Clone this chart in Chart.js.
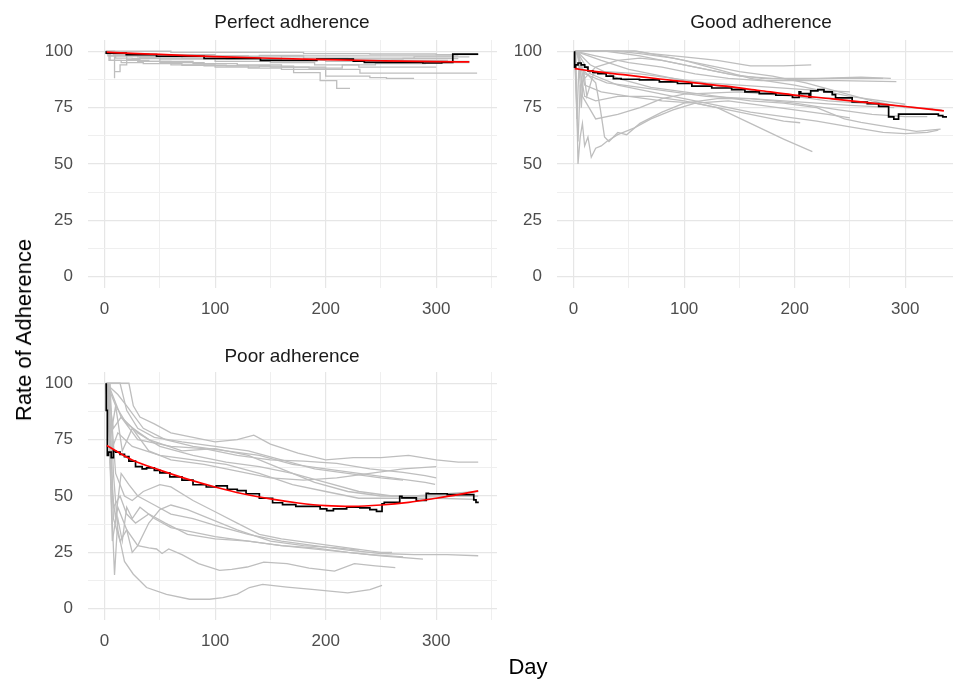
<!DOCTYPE html>
<html lang="en">
<head>
<meta charset="UTF-8">
<title>Rate of Adherence by Day</title>
<script src="https://cdn.jsdelivr.net/npm/chart.js@4.4.1/dist/chart.umd.min.js"></script>
<style>
  html, body { margin: 0; padding: 0; background: #fff; overflow: hidden; }
  #page {
    position: relative; width: 953px; height: 683px; overflow: hidden;
    font-family: 'Liberation Sans', Arial, sans-serif;
  }
  #page canvas { position: absolute; }
  .strip {
    position: absolute; font-size: 19px; line-height: 1; color: #1a1a1a;
    transform: translateX(-50%); white-space: nowrap;
  }
  .axis-title { position: absolute; font-size: 22px; line-height: 1; color: #000; white-space: nowrap; }
</style>
</head>
<body>
<div id="page">
  <canvas id="perfect" width="510" height="330" style="left:0;top:0"></canvas>
  <canvas id="good" width="510" height="330" style="left:469px;top:0"></canvas>
  <canvas id="poor" width="510" height="330" style="left:0;top:332px"></canvas>

  <div class="strip" style="left:292px;top:12px">Perfect adherence</div>
  <div class="strip" style="left:761px;top:12px">Good adherence</div>
  <div class="strip" style="left:292px;top:346px">Poor adherence</div>

  <div class="axis-title" style="left:528px;top:656px;transform:translateX(-50%)">Day</div>
  <div class="axis-title" style="left:24px;top:330px;transform:translate(-50%,-50%) rotate(-90deg)">Rate of Adherence</div>
</div>

<script>
// tick labels shown on the axes
const dayTicks = [0, 100, 200, 300];
const rateTicks = [0, 25, 50, 75, 100];

// ---- Perfect adherence: [day, rate] ----
const perfectMean = [[1.5,100],[19.6,99.2],[47,98.5],[90,97.8],[141,96.8],[192,96],[225,96.5],[235,95.6],[288,95.1],[305,94.8],[315,95.1],[338,98.7]];
const perfectTrend = [[2,99.6],[25,99.1],[50,98.6],[75,98.1],[100,97.6],[150,96.9],[200,96.3],[250,95.8],[300,95.4],[330,95.3]];
const perfectPatients = [
  [[1,100],[60,100],[120,99.5],[180,99.5],[240,99],[300,98.8],[338,98.5]],
  [[1,100],[9,100],[9,88],[14,91],[20,94],[32,96.3],[47,97.4],[100,97],[150,96.5],[200,96],[260,95.5],[310,96],[330,95.5]],
  [[3,100],[20,98],[40,96],[80,95.5],[120,94.5],[160,94],[200,93],[231,92],[249,90.3],[300,90.3],[337,90.3]],
  [[5,100],[30,96],[60,95.5],[100,94],[140,93],[171,93.4],[195,90.5],[210,87],[222,83.5]],
  [[10,100],[25,97],[50,96.8],[90,95],[130,93.5],[160,92.5],[200,92],[240,89],[255,88.3],[280,88]],
  [[2,100],[40,99],[80,98.5],[130,98],[180,97.5],[230,97],[280,97],[330,97.5]],
  [[5,100],[50,98],[100,96.5],[150,95.5],[190,95],[230,94],[260,93],[300,93]],
  [[8,100],[30,98.5],[70,97.5],[110,97],[160,96.5],[210,98],[260,98],[320,98]],
  [[4,100],[15,96],[35,95],[70,94.5],[110,93.8],[150,93.5],[185,93],[215,92.5],[245,94],[290,94.5],[330,95]],
  [[6,100],[20,99],[60,98],[100,98.5],[140,97.8],[180,98.2],[220,96.8],[270,96.5],[320,96.8]]
];

// ---- Good adherence ----
const goodMean = [[0.9,100],[1.8,93],[4,94],[6.9,94.8],[10,94],[13,93],[17.4,91.3],[22,90.6],[29.5,90.1],[36,89],[43,87.9],[59.6,87.6],[77.6,87.3],[94,86.4],[107,85.7],[125,84.5],[143,83.7],[155,83],[168,82],[183,81.2],[198,80.5],[204,79.5],[205.5,82],[213,81.2],[214.5,79.7],[221,82.4],[226.5,83],[234,82],[237,80.8],[252,79.3],[265.7,77.5],[276,76.8],[285,75.6],[289.7,70.9],[294,69.9],[330,72.1],[334,71.5],[337.8,70.9]];
const goodTrend = [[1,92.3],[17,91.2],[47,89.5],[78,87.7],[108,86.1],[138,84.5],[168,82.6],[198,80.7],[234,78.9],[264,77.3],[300,75.5],[335,73.6]];
const goodPatients = [
  [[1,100],[55,100],[70,99],[100,97.5],[130,96],[160,93.5],[190,93.5],[215,94]],
  [[1,100],[30,100],[60,98],[90,95],[120,92],[150,89],[180,88],[220,88],[260,88.5],[287,88]],
  [[2,100],[20,98],[50,95],[80,93],[110,90],[140,88],[170,87],[200,87],[240,87],[292,86.5]],
  [[2,100],[25,96],[50,92],[80,89],[110,86],[140,84],[170,82],[200,80],[230,78],[260,77],[300,75.5],[333,74]],
  [[3,100],[15,94],[40,88],[70,84],[100,82],[130,80],[160,78],[190,77],[220,75],[245,70],[260,68.5],[290,66],[310,64.5],[332,65.5]],
  [[2,100],[10,90],[30,86],[60,84],[90,82],[120,80],[160,79],[200,77],[240,74],[270,72],[300,71],[320,71]],
  [[3,100],[10,80],[20,78],[40,80],[70,80],[100,78],[130,75],[160,72],[190,69],[205,68.3]],
  [[4,100],[10,85],[25,82],[50,80],[80,78],[110,77],[130,75],[160,68],[190,61],[216,55.5]],
  [[2,100],[4,50],[6,62],[8,68],[10,58],[13,62],[16,53],[20,57],[25,58],[30,60],[40,63],[55,66],[70,70],[90,74],[110,77],[140,78],[170,76],[200,74],[230,72],[250,70.5]],
  [[3,100],[8,92],[16,88],[20,86],[24,75],[28,62],[32,60],[40,64],[48,63],[60,68],[80,73],[100,77],[130,79],[160,79],[190,78],[220,77],[250,76],[290,75]],
  [[1,100],[3,70],[5,95],[7,75],[9,92],[12,80],[18,90],[30,91],[60,90],[90,88],[120,86],[150,85],[180,84],[210,83],[250,82]],
  [[1,100],[4,60],[6,85],[10,88],[20,93],[40,96],[60,97],[80,96],[110,93],[140,90],[170,88],[200,87.5],[240,88],[280,88]],
  [[2,100],[40,100],[60,99],[90,97],[120,94],[150,91],[180,89],[210,86],[240,82],[270,78],[300,75],[325,74.5]],
  [[3,100],[15,90],[40,85],[70,82],[100,79],[130,76],[160,73],[190,71],[220,69],[250,66.5],[280,64],[300,63.5],[320,64],[330,65]],
  [[1,100],[57,100],[80,98],[100,96],[130,92],[160,88],[200,85],[250,80],[300,76.5]],
  [[5,100],[8,80],[20,70],[40,72],[60,75],[80,79],[100,81],[150,82],[200,80],[240,79]]
];

// ---- Poor adherence ----
const poorMean = [[1.5,100],[2.5,88],[3.5,68],[6,69.5],[8,67],[10,70],[14,69.5],[18,68.5],[22,67.5],[28,65.5],[34,63],[38,62],[45,62.5],[50,61.4],[59,60.3],[70,58.5],[80,57],[92,55],[101,54],[111,54.5],[120,53],[128,52.4],[140,51],[152,49],[161,47],[173,46.2],[195,45.4],[201,44.3],[207,43.5],[219,44.3],[231,45],[240,44.7],[246,44],[251,43.2],[253,46.5],[267,47.2],[269,49.8],[282,49.2],[291,48],[293,51.2],[310,51],[334,50.6],[336,48.3],[338.5,47.2]];
const poorTrend = [[2,72.4],[25,66],[50,61.5],[75,57.5],[100,54],[125,51],[150,48.7],[175,46.9],[200,45.7],[225,45.4],[250,46],[275,47.2],[300,49],[320,50.6],[338,52.3]];
const poorPatients = [
  [[1,100],[22,100],[26,90],[32,85],[45,82],[60,78],[80,76],[100,74],[120,75],[135,77],[150,73],[175,69],[200,66],[225,67],[250,67],[275,68],[300,66],[320,65],[338,65]],
  [[1,100],[12,95],[20,90],[35,80],[55,75],[80,72],[110,70],[140,68],[170,64],[200,62],[230,60],[260,58],[290,56],[299,55.2]],
  [[2,100],[8,80],[15,85],[30,78],[50,72],[80,68],[110,65],[140,63],[170,60],[200,56],[230,52],[260,50],[300,50],[338,50]],
  [[2,100],[10,90],[20,82],[40,75],[70,70],[100,71],[130,68],[160,62],[190,56],[220,52],[250,50],[280,50],[310,51],[338,52]],
  [[3,100],[6,70],[12,78],[25,72],[50,68],[80,66],[110,64],[140,60],[170,55],[200,52],[230,49],[260,49],[300,49],[335,48.5]],
  [[3,100],[15,85],[30,75],[60,72],[90,71],[120,68],[150,66],[180,65.5],[210,64.5],[240,62],[270,60.5],[290,59],[300,58]],
  [[2,100],[6,55],[10,40],[15,60],[22,55],[30,50],[45,46],[60,42],[80,40],[100,37],[130,33],[160,30],[190,28],[220,26],[250,24.5],[280,24],[310,24],[338,23.5]],
  [[3,100],[8,45],[14,50],[20,42],[28,38],[40,42],[55,38],[75,33],[100,31],[130,30],[160,28],[190,27],[220,25],[250,23.5],[288,22]],
  [[4,100],[10,60],[18,50],[25,48],[35,52],[50,55],[60,54],[80,48],[100,43],[120,38],[140,33],[160,31],[190,29],[220,27],[250,25],[260,25]],
  [[3,100],[7,30],[12,45],[20,35],[25,25],[30,28],[40,38],[50,44],[60,46],[75,44],[95,40],[120,35],[150,30],[180,28],[210,27],[230,26]],
  [[4,100],[8,40],[14,30],[20,35],[30,28],[40,27],[47,26.5],[52,24.5],[58,26.5],[70,24],[85,20],[104,17],[115,17.5],[129,18.5],[144,20.7],[165,20],[185,18],[208,16.7],[226,20],[245,19],[263,18.2]],
  [[5,100],[8,60],[12,35],[18,21],[26,15.3],[38,9.4],[56,6.4],[77,4.2],[95,4.2],[107,4.9],[120,6.5],[131,9.4],[143,10.8],[165,9.6],[190,8.5],[220,7],[240,8.5],[251,10.4]],
  [[3,100],[6,50],[9,15],[12,40],[16,30],[20,45],[25,40],[32,45],[45,40],[60,36],[80,34],[100,32],[130,30],[160,28],[200,26],[240,24],[270,23]],
  [[2,100],[14,100],[20,88],[30,80],[45,76],[70,74],[100,72],[130,70],[160,66],[190,62],[220,60],[250,58],[270,57]],
  [[1,100],[5,75],[10,90],[16,70],[25,80],[40,70],[60,66],[90,64],[120,61],[150,58],[180,57],[210,58],[240,60],[270,62],[300,63]]
];

Chart.defaults.font.family = "'Liberation Sans', Arial, sans-serif";

function toXY(pairs) {
  return pairs.map(p => ({ x: p[0], y: p[1] }));
}

function gridColor(ctx, majorStep) {
  return ctx.tick && ctx.tick.value % majorStep === 0 ? '#e6e6e6' : '#efefef';
}

function makePanel(id, patients, mean, trend, stepPatients) {
  const datasets = patients.map(p => ({
    data: toXY(p),
    showLine: true,
    borderColor: '#bebebe',
    borderWidth: 1.3,
    pointRadius: 0,
    stepped: stepPatients ? 'after' : false,
    order: 2
  }));
  datasets.push({
    data: toXY(mean), showLine: true, borderColor: '#000000', borderWidth: 1.7,
    pointRadius: 0, stepped: 'after', order: 1
  });
  datasets.push({
    data: toXY(trend), showLine: true, borderColor: '#ff0000', borderWidth: 1.7,
    pointRadius: 0, cubicInterpolationMode: 'monotone', order: 0
  });

  return new Chart(document.getElementById(id), {
    type: 'scatter',
    data: { datasets: datasets },
    options: {
      responsive: false,
      animation: false,
      layout: { padding: { top: 40, right: 13, left: 0, bottom: 0 } },
      plugins: { legend: { display: false }, tooltip: { enabled: false } },
      scales: {
        x: {
          type: 'linear', min: -15, max: 355,
          afterFit: s => { s.height = 42; },
          border: { display: false },
          grid: {
            drawTicks: false,
            color: ctx => gridColor(ctx, 100),
            lineWidth: ctx => (ctx.tick && ctx.tick.value % 100 === 0 ? 1.2 : 1)
          },
          ticks: {
            stepSize: 50, includeBounds: false, padding: 11, maxRotation: 0, autoSkip: false,
            color: '#4d4d4d', font: { size: 17 },
            callback: v => (dayTicks.includes(v) ? v : '')
          }
        },
        y: {
          type: 'linear', min: -5, max: 105,
          afterFit: s => { s.width = 88; },
          border: { display: false },
          grid: {
            drawTicks: false,
            color: ctx => gridColor(ctx, 25),
            lineWidth: ctx => (ctx.tick && ctx.tick.value % 25 === 0 ? 1.2 : 1)
          },
          ticks: {
            stepSize: 12.5, includeBounds: false, padding: 15, autoSkip: false,
            color: '#4d4d4d', font: { size: 17 },
            callback: v => (rateTicks.includes(v) ? v : '')
          }
        }
      }
    }
  });
}

makePanel('perfect', perfectPatients, perfectMean, perfectTrend, true);
makePanel('good', goodPatients, goodMean, goodTrend, false);
makePanel('poor', poorPatients, poorMean, poorTrend, false);
</script>
</body>
</html>
